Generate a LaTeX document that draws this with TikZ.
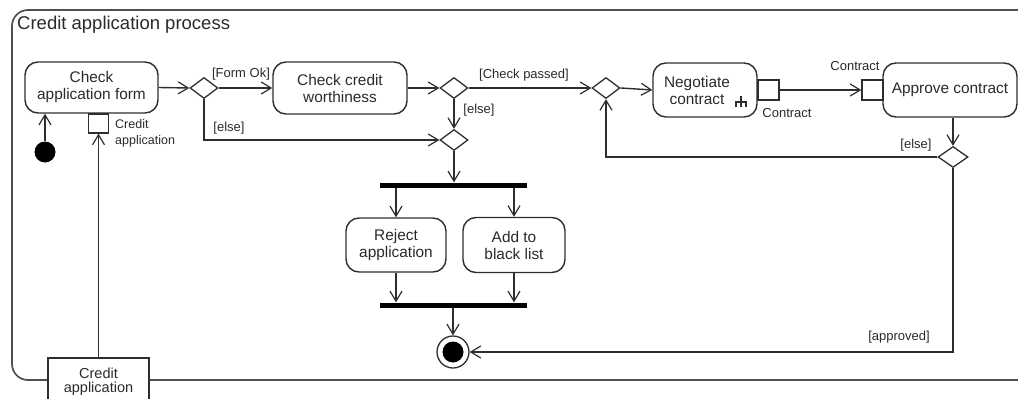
\documentclass[tikz,border=0pt]{standalone}
\usepackage{fontspec}
\setmainfont{Liberation Sans}
\usetikzlibrary{arrows.meta,shapes.geometric,calc}
\definecolor{ink}{HTML}{2A2A2A}
\definecolor{edge}{HTML}{2E2E2E}
\definecolor{framegray}{HTML}{505050}
\begin{document}
\begin{tikzpicture}[x=1pt,y=-1pt,
  every node/.style={text=ink},
  action/.style={draw=edge, line width=1.4pt, rounded corners=13pt, align=center,
    font=\fontsize{15.4}{17}\selectfont, inner sep=0pt},
  decision/.style={draw=edge, line width=1.3pt, diamond, inner sep=0pt,
    minimum width=28pt, minimum height=21pt, fill=white},
  pinbox/.style={draw=edge, line width=1.3pt, rectangle, inner sep=0pt,
    minimum width=20pt, minimum height=19pt, fill=white},
  bar/.style={fill=black, rectangle, inner sep=0pt, minimum width=147pt, minimum height=5pt},
  guard/.style={font=\fontsize{13}{15}\selectfont, inner sep=0pt},
  flow/.style={draw=edge, line width=1.4pt, -{Straight Barb[length=10pt,width=12pt,line width=1.2pt]}},
  wire/.style={draw=edge, line width=1.4pt}]
\useasboundingbox (0,0) rectangle (1018,399);

% activity frame
\draw[framegray, line width=1.7pt, rounded corners=16pt] (12,380) rectangle (1040,10);
\node[anchor=west, font=\fontsize{18.5}{21}\selectfont, inner sep=0pt] (title) at (17,25) {Credit application process};

% actions
\node[action, minimum width=133pt, minimum height=51pt] (caf) at (91.5,87.5) {Check\\application form};
\node[action, minimum width=134pt, minimum height=52pt] (ccw) at (340,88) {Check credit\\worthiness};
\node[action, minimum width=104pt, minimum height=54pt] (neg) at (705,90) {};
\node[align=center, font=\fontsize{15.4}{17}\selectfont, inner sep=0pt] (negtext) at (697,90) {Negotiate\\contract};
\node[action, minimum width=134pt, minimum height=54pt] (apc) at (950,90) {Approve contract};
\node[action, minimum width=100pt, minimum height=54pt] (rej) at (396,245) {Reject\\application};
\node[action, minimum width=102pt, minimum height=55pt] (blk) at (514,245) {Add to\\black list};

% call behaviour rake
\coordinate (rake) at (741,102);
\draw[edge, line width=1.3pt] ($(rake)+(0,-6)$) -- ($(rake)+(0,5)$)
  ($(rake)+(-5,5)$) -- ($(rake)+(-5,0)$) -- ($(rake)+(5,0)$) -- ($(rake)+(5,5)$);

% decisions and merges
\node[decision] (d1) at (204,88) {};
\node[decision] (d2) at (454,88) {};
\node[decision] (d3) at (454,140) {};
\node[decision] (d4) at (606,88) {};
\node[decision, minimum width=30pt] (d5) at (953,157) {};

% fork and join
\node[bar] (fork) at (453.5,185) {};
\node[bar] (join) at (453.5,305) {};

% initial and final nodes
\node[circle, fill=black, inner sep=0pt, minimum size=21pt] (init) at (45,152) {};
\node[circle, draw=edge, line width=1.3pt, fill=white, inner sep=0pt, minimum size=32pt] (final) at (453,352) {};
\node[circle, fill=black, inner sep=0pt, minimum size=21pt] (finaldot) at (453,352) {};

% pins
\node[pinbox] (pin1) at (98.5,123.5) {};
\node[pinbox, minimum width=21pt, minimum height=20pt] (pin2) at (768.5,90) {};
\node[pinbox, minimum width=21pt, minimum height=20pt] (pin3) at (872.5,90) {};
\node[guard, anchor=north west, align=left, font=\fontsize{12.5}{16}\selectfont] (pin1lbl) at (115,119) {Credit\\application};
\node[guard] (pin2lbl) at (787,113) {Contract};
\node[guard] (pin3lbl) at (855,66) {Contract};

% object node
\node[draw=edge, line width=1.3pt, fill=white, rectangle, align=center, inner sep=0pt,
  minimum width=101pt, minimum height=52pt, font=\fontsize{14.5}{18}\selectfont] (obj) at (98.5,384) {\raisebox{7pt}{\shortstack{Credit\\application}}};

% control and object flows
\draw[flow] (init) -- (init |- caf.south);
\draw[flow] (obj.north -| pin1.south) -- (pin1.south);
\draw[flow] (caf.east) -- (d1.west);
\draw[flow] (d1.east) -- (ccw.west);
\draw[flow] (d1.south) |- (d3.west);
\draw[flow] (ccw.east) -- (d2.west);
\draw[flow] (d2.east) -- (d4.west);
\draw[flow] (d2.south) -- (d3.north);
\draw[flow] (d3.south) -- (d3.south |- fork.north);
\draw[flow] (fork.south -| rej.north) -- (rej.north);
\draw[flow] (fork.south -| blk.north) -- (blk.north);
\draw[flow] (rej.south) -- (rej.south |- join.north);
\draw[flow] (blk.south) -- (blk.south |- join.north);
\draw[flow] (join.south -| final.north) -- (final.north);
\draw[flow] (d4.east) -- (neg.west);
\draw[flow] (pin2.east) -- (pin3.west);
\draw[flow] (apc.south -| d5.north) -- (d5.north);
\draw[flow] (d5.west) -| (d4.south);
\draw[flow] (d5.south) |- (final.east);

% guards
\node[guard] (gformok) at (241,74) {[Form Ok]};
\node[guard] (gelse1) at (229,128) {[else]};
\node[guard] (gpassed) at (524,75) {[Check passed]};
\node[guard] (gelse2) at (479,110) {[else]};
\node[guard] (gelse3) at (916,145) {[else]};
\node[guard] (gapproved) at (899,337) {[approved]};
\end{tikzpicture}
\end{document}
